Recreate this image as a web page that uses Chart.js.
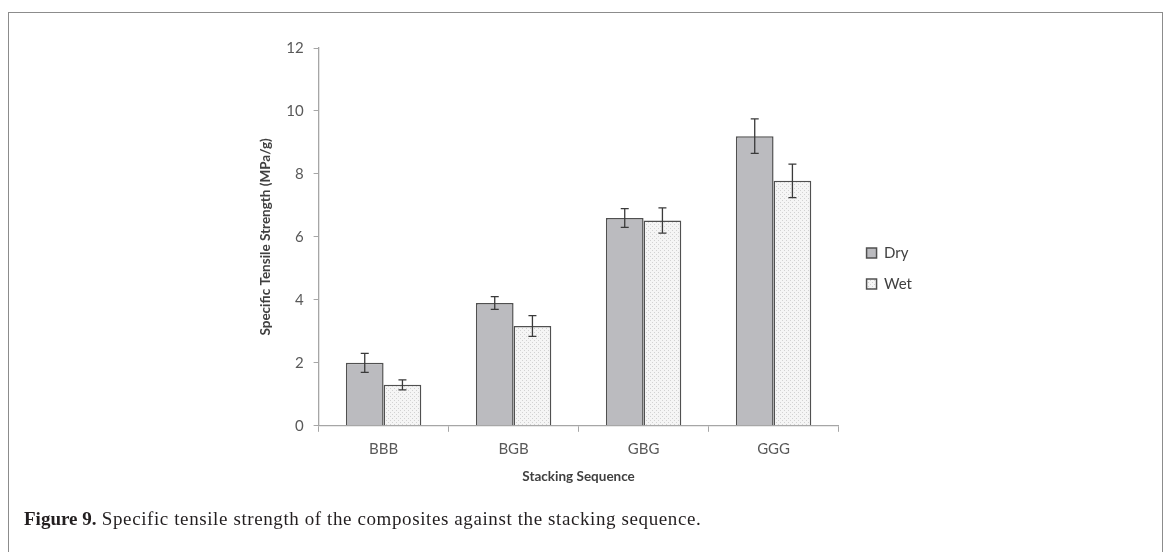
<!DOCTYPE html>
<html>
<head>
<meta charset="utf-8">
<script src="https://cdn.jsdelivr.net/npm/chart.js@4.4.1/dist/chart.umd.min.js"></script>
<style>
  html, body { margin: 0; padding: 0; background: #fff; }
  body { width: 1170px; height: 552px; position: relative; overflow: hidden; }
  #frame {
    position: absolute; left: 8px; top: 12px; width: 1155px; height: 600px;
    border: 1.5px solid #8c8c8c; box-sizing: border-box;
  }
  #wrap { position: absolute; left: 254px; top: 20px; width: 686px; height: 494px; }
  #caption {
    position: absolute; left: 24px; top: 508px; margin: 0;
    font-family: "Liberation Serif", "DejaVu Serif", serif; font-size: 19px; letter-spacing: 0.6px;
    color: #231f20; white-space: nowrap;
  }
  #caption b { font-weight: bold; letter-spacing: 0; }
</style>
</head>
<body>
<div id="frame"></div>
<div id="wrap"><canvas id="chart" width="686" height="494"></canvas></div>
<p id="caption"><b>Figure 9.</b> Specific tensile strength of the composites against the stacking sequence.</p>
<script>
// Stacking sequences and measured specific tensile strength (MPa/g)
const categories = ["BBB", "BGB", "GBG", "GGG"];
const dryValues = [2.0, 3.9, 6.6, 9.2];
const dryErrors = [0.3, 0.2, 0.3, 0.55];
const wetValues = [1.3, 3.17, 6.52, 7.78];
const wetErrors = [0.16, 0.33, 0.4, 0.53];
const yTicks = [0, 2, 4, 6, 8, 10, 12];

// fine stipple fill for the wet bars
function stipple() {
  const c = document.createElement("canvas");
  c.width = 4; c.height = 4;
  const g = c.getContext("2d");
  g.fillStyle = "#f5f5f5";
  g.fillRect(0, 0, 4, 4);
  g.fillStyle = "#d2d2d2";
  g.fillRect(0, 0, 1, 1);
  g.fillRect(2, 2, 1, 1);
  return g.createPattern(c, "repeat");
}

// draws +/- error whiskers on every bar
const errorBars = {
  id: "errorBars",
  afterDatasetsDraw(chart) {
    const ctx = chart.ctx;
    const y = chart.scales.y;
    chart.data.datasets.forEach((ds, di) => {
      const meta = chart.getDatasetMeta(di);
      meta.data.forEach((bar, i) => {
        const v = ds.data[i], e = ds.errors[i];
        const top = y.getPixelForValue(v + e);
        const bot = y.getPixelForValue(v - e);
        ctx.save();
        ctx.strokeStyle = "#3a3a3a";
        ctx.lineWidth = 1.3;
        ctx.beginPath();
        ctx.moveTo(bar.x, top); ctx.lineTo(bar.x, bot);
        ctx.moveTo(bar.x - 4, top); ctx.lineTo(bar.x + 4, top);
        ctx.moveTo(bar.x - 4, bot); ctx.lineTo(bar.x + 4, bot);
        ctx.stroke();
        ctx.restore();
      });
    });
  }
};

const axisColor = "#a6a6a6";
const tickFont = { family: "Lato, 'Open Sans', sans-serif", size: 15 };
const titleFont = { family: "Lato, 'Open Sans', sans-serif", size: 13.5, weight: "bold" };

new Chart(document.getElementById("chart"), {
  type: "bar",
  data: {
    labels: categories,
    datasets: [
      {
        label: "Dry", data: dryValues, errors: dryErrors,
        backgroundColor: "#bbbbbf", borderColor: "#505050", borderWidth: 1.5,
        categoryPercentage: 0.58, barPercentage: 1.0
      },
      {
        label: "Wet", data: wetValues, errors: wetErrors,
        backgroundColor: stipple(), borderColor: "#505050", borderWidth: 1.5,
        categoryPercentage: 0.58, barPercentage: 1.0
      }
    ]
  },
  options: {
    responsive: false,
    animation: false,
    events: [],
    layout: { padding: { top: 28, right: 18, bottom: 25, left: 0 } },
    plugins: {
      legend: {
        position: "right",
        labels: {
          boxWidth: 10, boxHeight: 10, padding: 16,
          color: "#404040", font: { family: "Lato, 'Open Sans', sans-serif", size: 15 }
        }
      },
      tooltip: { enabled: false }
    },
    scales: {
      x: {
        grid: { offset: true, drawOnChartArea: false, drawTicks: true, tickLength: 6, color: axisColor },
        border: { color: axisColor, width: 1.3 },
        ticks: { color: "#595959", font: tickFont, padding: 8 },
        title: { display: true, text: "Stacking Sequence", color: "#404040", font: titleFont, padding: { top: 3 } }
      },
      y: {
        min: 0, max: 12,
        afterBuildTicks(scale) { scale.ticks = yTicks.map(v => ({ value: v })); },
        grid: { drawOnChartArea: false, drawTicks: true, tickLength: 5, color: axisColor },
        border: { color: axisColor, width: 1.3 },
        ticks: { color: "#595959", font: tickFont, padding: 10 },
        title: { display: true, text: "Specific Tensile Strength (MPa/g)", color: "#404040", font: titleFont, padding: { bottom: 2 } }
      },
      // empty spacer between plot and legend
      gap: {
        axis: "y", position: "right", display: true,
        grid: { display: false }, border: { display: false }, ticks: { display: false },
        afterFit(scale) { scale.width = 12; }
      }
    }
  },
  plugins: [errorBars]
});
</script>
</body>
</html>
